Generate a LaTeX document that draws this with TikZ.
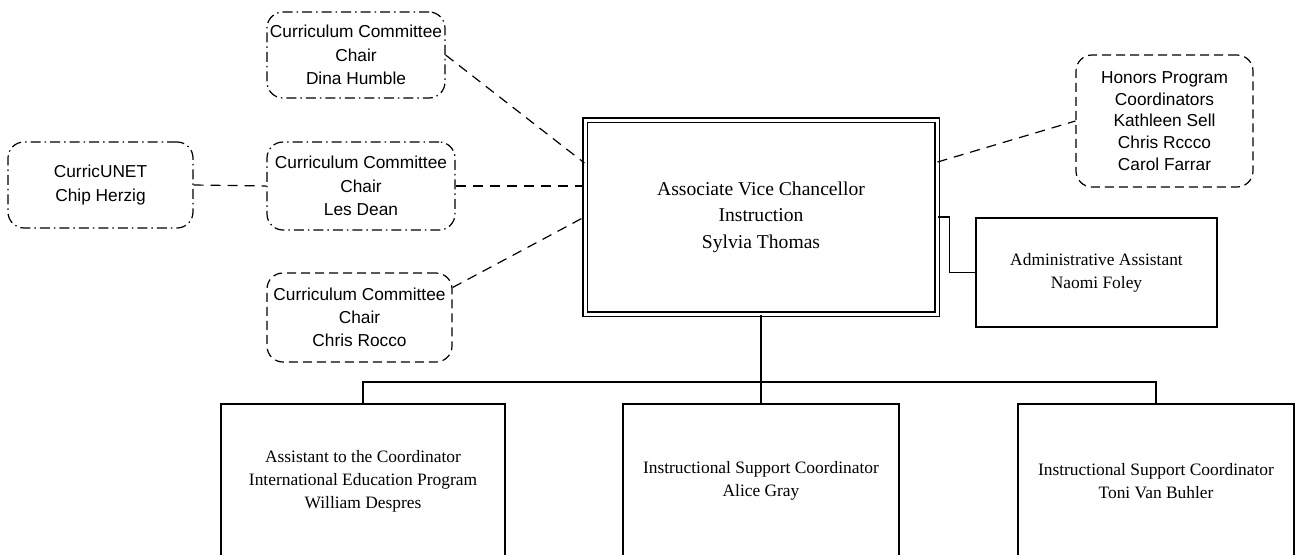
\documentclass[tikz,border=0pt]{standalone}
\usepackage{fontspec}
\setmainfont{Liberation Serif}
\setsansfont{Liberation Sans}
\tikzset{
  post/.style={draw, line width=1.3pt, inner sep=0pt, align=center, font=\fontsize{17.4}{23}\selectfont},
  chair/.style={draw, rounded corners=16pt, line width=1.2pt, inner sep=0pt, align=center, font=\sffamily\fontsize{17.3}{23.3}\selectfont},
  dotbox/.style={dash pattern=on 10pt off 4pt on 1.5pt off 4pt},
  dashbox/.style={dash pattern=on 9pt off 5pt},
  link/.style={line width=1.2pt, dash pattern=on 10pt off 7pt},
  tie/.style={line width=1.3pt}
}
\begin{document}
\begin{tikzpicture}[x=1pt, y=-1pt]
\useasboundingbox (0,0) rectangle (1300,554);
\node[post, double, double distance=3pt, line width=1.1pt, minimum width=352pt, minimum height=194pt, font=\fontsize{19.6}{26.5}\selectfont] (avc) at (761,217) {Associate Vice Chancellor\\Instruction\\Sylvia Thomas};
\node[post, minimum width=241pt, minimum height=109pt] (admin) at (1096.5,272.5) {Administrative Assistant\\Naomi Foley};
\node[post, minimum width=284pt, minimum height=154pt] (despres) at (363,481) {Assistant to the Coordinator\\International Education Program\\William Despres};
\node[post, minimum width=276pt, minimum height=154pt] (gray) at (761,481) {Instructional Support Coordinator\\Alice Gray};
\node[post, minimum width=276pt, minimum height=154pt] (buhler) at (1156,481) {Instructional Support Coordinator\\Toni Van Buhler};
\node[chair, dotbox, minimum width=178pt, minimum height=86pt] (humble) at (356,55) {Curriculum Committee\\Chair\\Dina Humble};
\node[chair, dotbox, minimum width=188pt, minimum height=88pt] (dean) at (361,186) {Curriculum Committee\\Chair\\Les Dean};
\node[chair, dotbox, minimum width=185pt, minimum height=86pt] (herzig) at (100.5,185) {CurricUNET\\Chip Herzig};
\node[chair, dashbox, minimum width=185pt, minimum height=89pt] (rocco) at (359.5,317.5) {Curriculum Committee\\Chair\\Chris Rocco};
\node[chair, dashbox, minimum width=177pt, minimum height=132pt, font=\sffamily\fontsize{17.3}{21.7}\selectfont] (honors) at (1164.5,121) {Honors Program\\Coordinators\\Kathleen Sell\\Chris Rccco\\Carol Farrar};
\draw[link] (humble.east) -- ([yshift=54pt]avc.west);
\draw[link] (dean.east) -- (dean.east -| avc.west);
\draw[link] (herzig.east) -- (dean.west);
\draw[link] ([yshift=30pt]rocco.east) -- (avc.west);
\draw[link] ([yshift=55pt]avc.east) -- (honors.west);
\draw[tie] (avc.east) -- ++(12,0) |- (admin.west);
\coordinate (bar) at (761,382);
\draw[tie] (avc.south) -- (gray.north);
\draw[tie] (despres.north) |- (bar) -| (buhler.north);
\end{tikzpicture}
\end{document}
